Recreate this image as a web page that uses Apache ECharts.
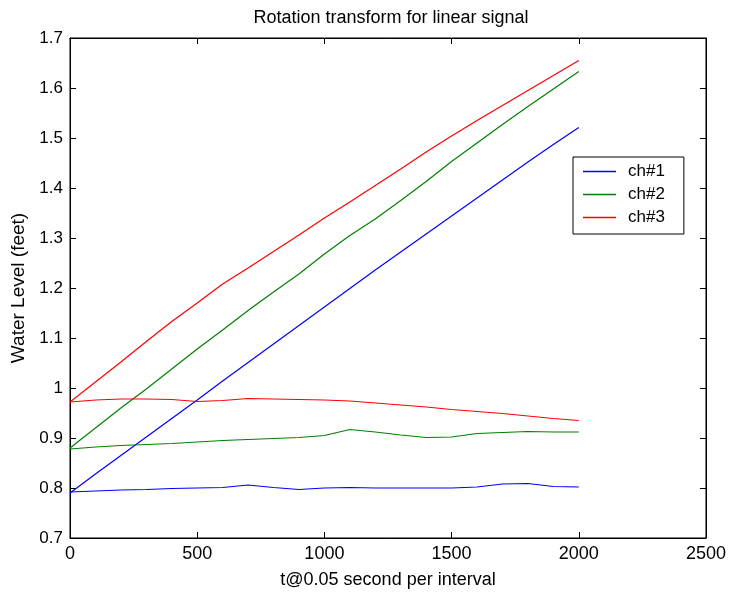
<!DOCTYPE html>
<html>
<head>
<meta charset="utf-8">
<script src="https://cdn.jsdelivr.net/npm/echarts@6/dist/echarts.min.js"></script>
<style>html,body{margin:0;padding:0;background:#fff}#c{width:729px;height:596px}</style>
</head>
<body>
<div id="c"></div>
<script>
var tValues = [0,100,200,300,400,500,600,700,800,900,1000,1100,1200,1300,1400,1500,1600,1700,1800,1900,2000];
var ch1Rise = [0.790,0.828,0.865,0.902,0.939,0.976,1.014,1.051,1.088,1.125,1.162,1.199,1.236,1.272,1.308,1.344,1.380,1.416,1.452,1.487,1.521];
var ch2Rise = [0.880,0.920,0.960,0.998,1.038,1.078,1.116,1.155,1.192,1.228,1.268,1.305,1.338,1.375,1.413,1.453,1.490,1.527,1.563,1.598,1.633];
var ch3Rise = [0.972,1.012,1.052,1.093,1.133,1.170,1.208,1.240,1.273,1.306,1.340,1.372,1.405,1.438,1.472,1.504,1.535,1.565,1.595,1.625,1.655];
var ch1Flat = [0.792,0.794,0.796,0.797,0.799,0.800,0.801,0.806,0.801,0.797,0.800,0.801,0.800,0.800,0.800,0.800,0.802,0.808,0.809,0.803,0.802];
var ch2Flat = [0.878,0.882,0.885,0.887,0.889,0.892,0.895,0.897,0.899,0.901,0.905,0.917,0.912,0.906,0.901,0.902,0.909,0.911,0.913,0.912,0.912];
var ch3Flat = [0.972,0.976,0.978,0.978,0.977,0.973,0.975,0.979,0.978,0.977,0.976,0.974,0.970,0.966,0.962,0.957,0.953,0.949,0.944,0.939,0.935];
var channelNames = ['ch#1','ch#2','ch#3'];
var channelColors = ['#0000ff','#008000','#ff0000'];
var titleText = 'Rotation transform for linear signal';
var xName = 't@0.05 second per interval';
var yName = 'Water Level (feet)';

function pairs(ys){ return tValues.map(function(t,i){ return [t, ys[i]]; }); }
var FONT = '"Liberation Sans", Arial, sans-serif';

var rise = [ch1Rise, ch2Rise, ch3Rise];
var flat = [ch1Flat, ch2Flat, ch3Flat];
var series = [];
for (var k = 0; k < 3; k++) {
  series.push({type:'line', name:channelNames[k], data:pairs(rise[k]), symbol:'none', showSymbol:false, lineStyle:{color:channelColors[k], width:1.2}, itemStyle:{color:channelColors[k]}, animation:false});
}
for (var k2 = 0; k2 < 3; k2++) {
  series.push({type:'line', name:channelNames[k2], data:pairs(flat[k2]), symbol:'none', showSymbol:false, lineStyle:{color:channelColors[k2], width:1.2}, itemStyle:{color:channelColors[k2]}, animation:false});
}

var tickStyle = {show:true, inside:true, length:6, lineStyle:{color:'#000'}};
var lineStyleAx = {show:true, onZero:false, lineStyle:{color:'#000'}};

var chart = echarts.init(document.getElementById('c'), null, {renderer:'canvas'});
chart.setOption({
  backgroundColor:'#fff',
  animation:false,
  title:{text:titleText, left:386, top:4, textAlign:'center', textStyle:{fontFamily:FONT, fontSize:18, fontWeight:'normal', color:'#000'}},
  legend:{data:channelNames, orient:'vertical', left:573, top:157, padding:[6,19,8,10], itemGap:6, itemWidth:33, itemHeight:1.5,
    icon:'rect', borderColor:'#000', borderWidth:1, borderRadius:0, backgroundColor:'#fff',
    textStyle:{fontFamily:FONT, fontSize:17, lineHeight:17, color:'#000', padding:[0,0,0,7]}},
  grid:{left:70, right:23, top:38, bottom:58, show:true, borderColor:'#000', borderWidth:1, backgroundColor:'#fff'},
  xAxis:[
    {type:'value', min:0, max:2500, interval:500, position:'bottom',
     name:xName, nameLocation:'middle', nameGap:33, nameTextStyle:{fontFamily:FONT, fontSize:18, color:'#000'},
     axisLine:lineStyleAx, axisTick:tickStyle,
     axisLabel:{fontFamily:FONT, fontSize:18, color:'#000', margin:7, formatter:function(v){ return String(v); }}, splitLine:{show:false}},
    {type:'value', min:0, max:2500, interval:500, position:'top',
     axisLine:lineStyleAx, axisTick:tickStyle, axisLabel:{show:false}, splitLine:{show:false}}
  ],
  yAxis:[
    {type:'value', min:0.7, max:1.7, interval:0.1, position:'left',
     name:yName, nameLocation:'middle', nameGap:38, nameTextStyle:{fontFamily:FONT, fontSize:19, color:'#000'},
     axisLine:lineStyleAx, axisTick:tickStyle,
     axisLabel:{fontFamily:FONT, fontSize:17, color:'#000', margin:7, formatter:function(v){ return String(Math.round(v*10)/10); }}, splitLine:{show:false}},
    {type:'value', min:0.7, max:1.7, interval:0.1, position:'right',
     axisLine:lineStyleAx, axisTick:tickStyle, axisLabel:{show:false}, splitLine:{show:false}}
  ],
  series:series
});
</script>
</body>
</html>
